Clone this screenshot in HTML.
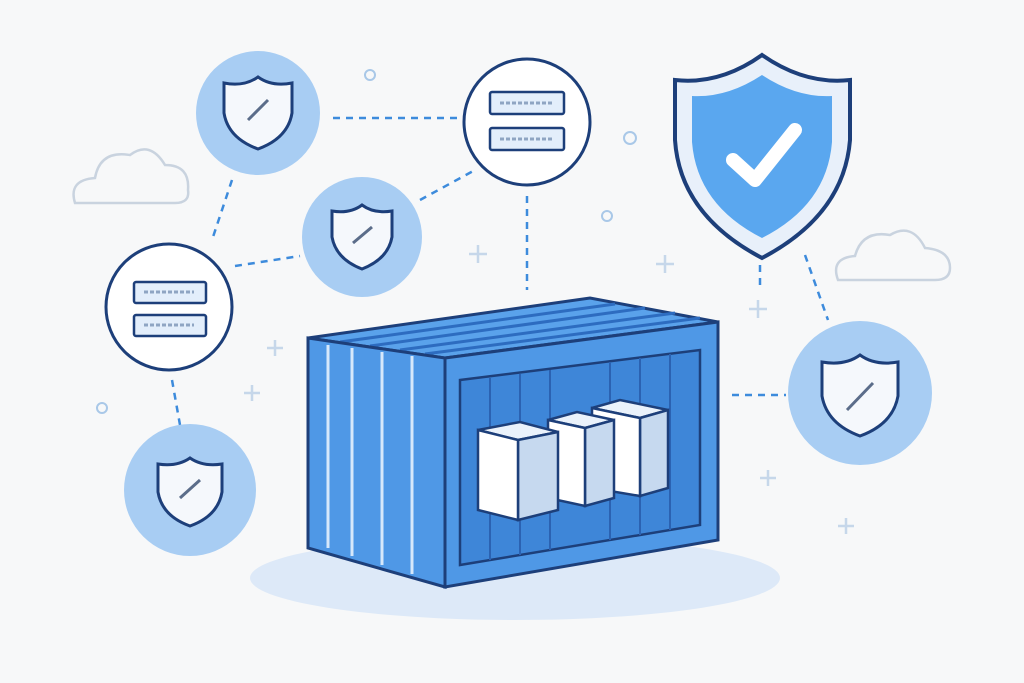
<!DOCTYPE html>
<html><head><meta charset="utf-8"><style>html,body{margin:0;padding:0;background:#f7f8f9}svg{display:block}</style></head>
<body>
<svg width="1024" height="683" viewBox="0 0 1024 683" xmlns="http://www.w3.org/2000/svg">
<rect width="1024" height="683" fill="#f7f8f9"/>
<!-- shadow -->
<ellipse cx="515" cy="578" rx="265" ry="42" fill="#dde9f8"/>
<!-- dashed connectors -->
<g stroke="#3d8bdc" stroke-width="2.5" stroke-dasharray="7,6" fill="none">
<line x1="333" y1="118" x2="462" y2="118"/>
<line x1="420" y1="200" x2="475" y2="170"/>
<line x1="232" y1="180" x2="212" y2="240"/>
<line x1="235" y1="266" x2="300" y2="256"/>
<line x1="527" y1="196" x2="527" y2="290"/>
<line x1="172" y1="380" x2="180" y2="425"/>
<line x1="732" y1="395" x2="786" y2="395"/>
<line x1="805" y1="255" x2="828" y2="320"/>
<line x1="760" y1="265" x2="760" y2="285"/>
</g>
<!-- clouds -->
<g fill="#f7f8f9" stroke="#c9d3df" stroke-width="2.5">
<path d="M75 203 Q68 180 95 178 Q100 150 130 155 Q150 140 165 165 Q190 165 188 190 Q190 203 175 203 Z"/>
<path d="M838 280 Q830 258 855 256 Q862 230 890 235 Q912 222 925 248 Q950 250 950 268 Q950 280 935 280 Z"/>
</g>
<!-- decorative plus/dots -->
<g stroke="#c6d7ea" stroke-width="2.5">
<path d="M478 245v18M469 254h18M665 255v18M656 264h18M275 340v16M267 348h16M252 385v16M244 393h16M758 300v18M749 309h18M768 470v16M760 478h16M846 518v16M838 526h16"/>
</g>
<g fill="none" stroke="#a9c8e8" stroke-width="2">
<circle cx="370" cy="75" r="5"/><circle cx="630" cy="138" r="6"/><circle cx="607" cy="216" r="5"/><circle cx="102" cy="408" r="5"/>
</g>
<!-- circles with shields -->
<g id="c">
<circle cx="258" cy="113" r="62" fill="#a8cdf3"/>
<circle cx="362" cy="237" r="60" fill="#a8cdf3"/>
<circle cx="190" cy="490" r="66" fill="#a8cdf3"/>
<circle cx="860" cy="393" r="72" fill="#a8cdf3"/>
</g>
<g fill="#f5f8fc" stroke="#1d3f7a" stroke-width="3">
<path d="M258 77 q-14 10 -34 6 v30 q4 25 34 36 q30 -11 34 -36 v-30 q-20 4 -34 -6z"/>
<path d="M362 205 q-12 9 -30 6 v26 q4 22 30 32 q26 -10 30 -32 v-26 q-18 3 -30 -6z"/>
<path d="M190 458 q-13 9 -32 6 v28 q4 24 32 34 q28 -10 32 -34 v-28 q-19 3 -32 -6z"/>
<path d="M860 355 q-15 11 -38 7 v34 q5 28 38 40 q33 -12 38 -40 v-34 q-23 4 -38 -7z"/>
</g>
<g stroke="#5b6d8a" stroke-width="3"><line x1="248" y1="120" x2="268" y2="100"/><line x1="353" y1="243" x2="372" y2="227"/><line x1="180" y1="498" x2="200" y2="480"/><line x1="847" y1="410" x2="873" y2="383"/></g>
<!-- server circles -->
<g fill="#fff" stroke="#1d3f7a" stroke-width="3">
<circle cx="527" cy="122" r="63"/>
<circle cx="169" cy="307" r="63"/>
</g>
<g fill="#e3eefb" stroke="#1d3f7a" stroke-width="2.5">
<rect x="490" y="92" width="74" height="22" rx="2"/><rect x="490" y="128" width="74" height="22" rx="2"/>
<rect x="134" y="282" width="72" height="21" rx="2"/><rect x="134" y="315" width="72" height="21" rx="2"/>
</g>
<g stroke="#8fa5c3" stroke-width="3" stroke-dasharray="4,2"><line x1="500" y1="103" x2="552" y2="103"/><line x1="500" y1="139" x2="552" y2="139"/><line x1="144" y1="292" x2="194" y2="292"/><line x1="144" y1="325" x2="194" y2="325"/></g>
<!-- big shield -->
<path d="M762 55 Q720 85 675 80 L675 140 Q680 215 762 258 Q844 215 850 140 L850 80 Q805 85 762 55Z" fill="#e8f0fa" stroke="#1d3f7a" stroke-width="4"/>
<path d="M762 75 Q727 98 692 96 L692 142 Q697 205 762 238 Q827 205 832 142 L832 96 Q797 98 762 75Z" fill="#5aa7ef"/>
<path d="M733 160 L755 180 L795 130" fill="none" stroke="#fff" stroke-width="14" stroke-linecap="round" stroke-linejoin="round"/>
<!-- container -->
<polygon points="308,338 590,298 718,322 445,358" fill="#5aa2eb" stroke="#1d3f7a" stroke-width="3"/>
<g stroke="#2d6cc0" stroke-width="3"><line x1="340" y1="342" x2="615" y2="304"/><line x1="370" y1="346" x2="645" y2="308"/><line x1="400" y1="350" x2="675" y2="313"/><line x1="425" y1="354" x2="700" y2="318"/></g>
<polygon points="308,338 445,358 445,587 308,548" fill="#4f98e6" stroke="#1d3f7a" stroke-width="3"/>
<g stroke="#d6e8fb" stroke-width="3"><line x1="328" y1="345" x2="328" y2="548"/><line x1="352" y1="348" x2="352" y2="556"/><line x1="382" y1="352" x2="382" y2="565"/><line x1="412" y1="356" x2="412" y2="574"/></g>
<polygon points="445,358 718,322 718,540 445,587" fill="#4f98e6" stroke="#1d3f7a" stroke-width="3"/>
<polygon points="460,380 700,350 700,525 460,565" fill="#3e86d8" stroke="#1d3f7a" stroke-width="2.5"/>
<g stroke="#2b62b2" stroke-width="2"><line x1="490" y1="378" x2="490" y2="560"/><line x1="520" y1="374" x2="520" y2="555"/><line x1="550" y1="370" x2="550" y2="550"/><line x1="610" y1="362" x2="610" y2="540"/><line x1="640" y1="358" x2="640" y2="535"/><line x1="670" y1="354" x2="670" y2="530"/></g>
<!-- cubes -->
<g stroke="#1d3f7a" stroke-width="2.5">
<polygon points="592,408 620,400 668,410 640,418" fill="#eaf2fb"/><polygon points="640,418 668,410 668,488 640,496" fill="#c6d9ef"/><polygon points="592,408 640,418 640,496 592,488" fill="#fff"/>
<polygon points="548,420 577,412 614,420 585,428" fill="#eaf2fb"/><polygon points="585,428 614,420 614,498 585,506" fill="#c6d9ef"/><polygon points="548,420 585,428 585,506 548,498" fill="#fff"/>
<polygon points="478,430 520,422 558,432 518,440" fill="#eaf2fb"/><polygon points="518,440 558,432 558,510 518,520" fill="#c6d9ef"/><polygon points="478,430 518,440 518,520 478,510" fill="#fff"/>
</g>
</svg>
</body></html>
